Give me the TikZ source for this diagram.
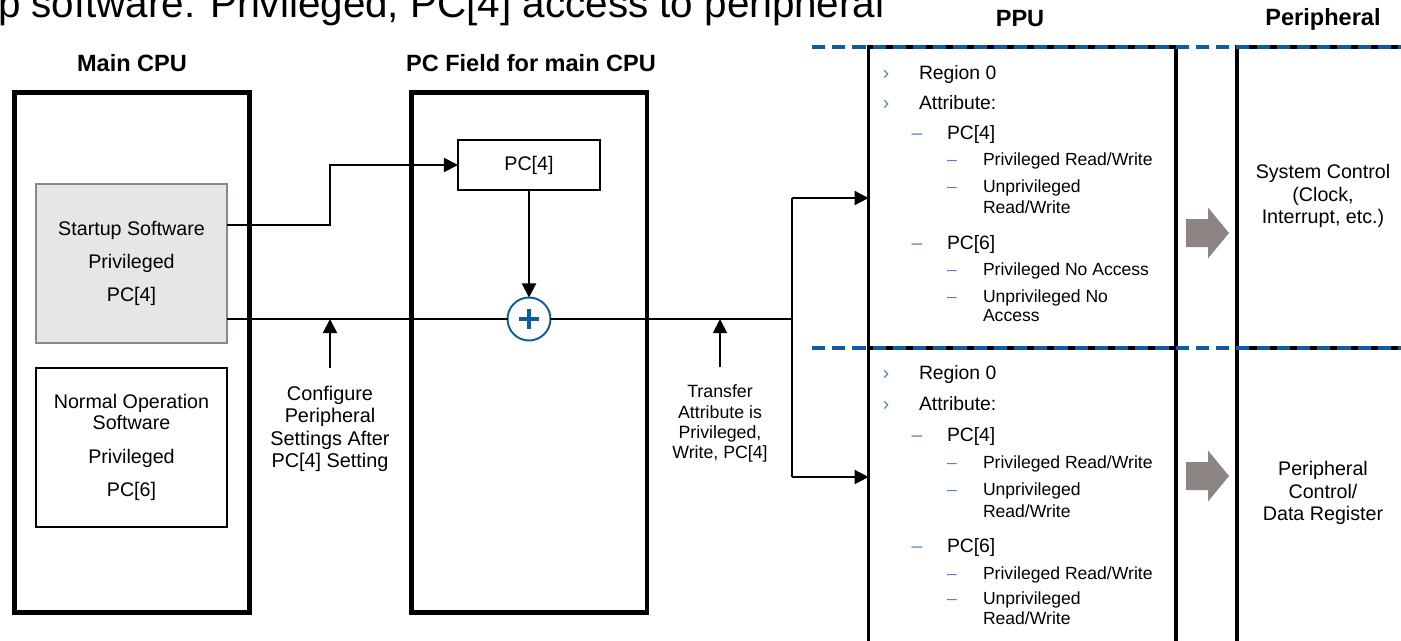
\documentclass[tikz,border=0pt]{standalone}
\usepackage{fontspec}
\setmainfont{Liberation Sans}
\usetikzlibrary{positioning,arrows.meta}
\definecolor{ppublue}{RGB}{16,92,160}
\definecolor{bulblue}{RGB}{84,130,200}
\definecolor{swfill}{RGB}{231,230,229}
\definecolor{swdraw}{RGB}{141,135,133}
\definecolor{blkgray}{RGB}{140,133,131}
\tikzset{
  every node/.style={inner sep=0pt, outer sep=0pt},
  wire/.style={line width=1.1pt},
  arr/.style={wire, -{Triangle[length=8pt, width=8pt]}}
}

\begin{document}
\begin{tikzpicture}[x=0.02cm, y=-0.02cm]
\tikzstyle{frameBox}=[draw, line width=2.8pt, rectangle, minimum width=4.71cm,
minimum height=10.41cm]
\tikzstyle{swBox}=[draw, line width=1pt, rectangle, minimum width=3.82cm,
minimum height=3.18cm, align=center, font=\fontsize{11.2}{19}\selectfont]
\tikzstyle{hdStyle}=[font=\fontsize{13.4}{16}\selectfont\bfseries]
\tikzstyle{lblStyle}=[align=center, anchor=north]
\tikzstyle{laneBox}=[draw, line width=2pt, rectangle, anchor=north west,
minimum height=13.06cm]
\tikzstyle{lOne}=[anchor=base west, font=\fontsize{11}{13}\selectfont]
\tikzstyle{lThree}=[anchor=base west, font=\fontsize{10}{12}\selectfont]
\tikzstyle{markOne}=[anchor=base, text=bulblue, font=\fontsize{11}{13}\selectfont]
\tikzstyle{markThree}=[anchor=base, text=bulblue, font=\fontsize{10}{12}\selectfont]

\useasboundingbox (0,0) rectangle (1401,640);
\clip (0,0) rectangle (1401,640);

% title line, cut by the top edge
\node[anchor=base west, font=\fontsize{23}{27}\selectfont] (title) at (-2,17)
{p software: Privileged, PC[4] access to peripheral};

\node[hdStyle] (hcpu) at (132,63) {Main CPU};
\node[hdStyle] (hpcf) at (531,63) {PC Field for main CPU};
\node[hdStyle] (hppu) at (1020,19) {PPU};
\node[hdStyle] (hper) at (1323,19) {Peripheral};

\node[frameBox] (cpu) at (132,352.7) {};
\node[frameBox] (pcf) at (529.3,352.7) {};

\node[swBox, fill=swfill, draw=swdraw] (start) at (131.5,263.5)
{Startup Software\\Privileged\\PC[4]};
\node[swBox] (norm) at (131.5,447.5)
{Normal Operation\\[-7pt]Software\\Privileged\\PC[6]};

\node[draw, line width=1pt, minimum width=2.84cm, minimum height=1cm,
font=\fontsize{11.2}{13}\selectfont] (pcreg) at (529,165) {PC[4]};
\node[circle, draw=ppublue, line width=1.1pt, minimum size=0.86cm, fill=white]
(plus) at (529,319) {};
\draw[ppublue, line width=1.8pt] ([xshift=-5.7pt]plus.center) -- ([xshift=5.7pt]plus.center)
([yshift=-5.7pt]plus.center) -- ([yshift=5.7pt]plus.center);

\coordinate (kA) at (330,225);
\draw[arr] (start.east |- kA) -- (kA) |- (pcreg.west);
\draw[wire] (start.east |- plus) -- (plus.west);
\draw[arr] (pcreg.south) -- (plus.north);

\node[lblStyle, font=\fontsize{11.3}{12.75}\selectfont] (cfg) at (330,386)
{Configure\\Peripheral\\Settings After\\PC[4] Setting};
\node[lblStyle, font=\fontsize{10.1}{11.5}\selectfont] (xfer) at (720,385)
{Transfer\\Attribute is\\Privileged,\\Write, PC[4]};
\draw[arr] ([yshift=10pt]cfg.north) -- (cfg.north |- plus);
\draw[arr] ([yshift=10pt]xfer.north) -- (xfer.north |- plus);

\node[laneBox, minimum width=6.148cm] (ppu) at (868.6,47) {};
\node[laneBox, minimum width=5cm] (per) at (1237,47) {};

\coordinate (brA) at (792,198);
\coordinate (brB) at (792,477);
\draw[wire] (plus.east) -- (plus -| brA);
\draw[wire] (brA) -- (brB);
\draw[arr] (brA) -- (brA -| ppu.west);
\draw[arr] (brB) -- (brB -| ppu.west);

\coordinate (divL) at (812,348);
\draw[line width=2pt] (divL -| ppu.west) -- (divL -| ppu.east)
(divL -| per.west) -- (divL -| per.east);
\foreach \y in {47,348}
	\draw[ppublue, line width=2.2pt, dash pattern=on 7.5pt off 4pt] (812,\y) -- (1401,\y);

\foreach \cy in {233,476}
	\fill[blkgray] (1186,\cy-14) -- (1208,\cy-14) -- (1208,\cy-25.5) -- (1229,\cy)
	-- (1208,\cy+25.5) -- (1208,\cy+14) -- (1186,\cy+14) -- cycle;

\node[align=center, font=\fontsize{11.2}{13}\selectfont] (sysc) at (1323,196)
{System Control\\(Clock,\\Interrupt, etc.)};
\node[align=center, font=\fontsize{11.2}{13}\selectfont] (preg) at (1323,493)
{Peripheral\\Control/\\Data Register};

\foreach \y/\t in {72/{Region 0},102/{Attribute:},372/{Region 0},403/{Attribute:}}
{
	\node[lOne] (r\y) at (919,\y+7) {\t};
	\node[markOne] (mr\y) at (886,\y+7) {›};
}
\foreach \y/\t in {132/{PC[4]},242/{PC[6]},434/{PC[4]},545/{PC[6]}}
{
	\node[lOne] (p\y) at (947,\y+7) {\t};
	\node[markOne] (mp\y) at (917,\y+7) {–};
}
\foreach \y/\t in {159/{Privileged Read/Write},186/{Unprivileged},
269/{Privileged No Access},296/{Unprivileged No},462/{Privileged Read/Write},
489/{Unprivileged},573/{Privileged Read/Write},598/{Unprivileged}}
{
	\node[lThree] (a\y) at (983,\y+6) {\t};
	\node[markThree] (ma\y) at (952,\y+6) {–};
}
\foreach \y/\t in {207/{Read/Write},315/{Access},511/{Read/Write},618/{Read/Write}}
	\node[lThree] (a\y) at (983,\y+6) {\t};
\end{tikzpicture}
\end{document}
